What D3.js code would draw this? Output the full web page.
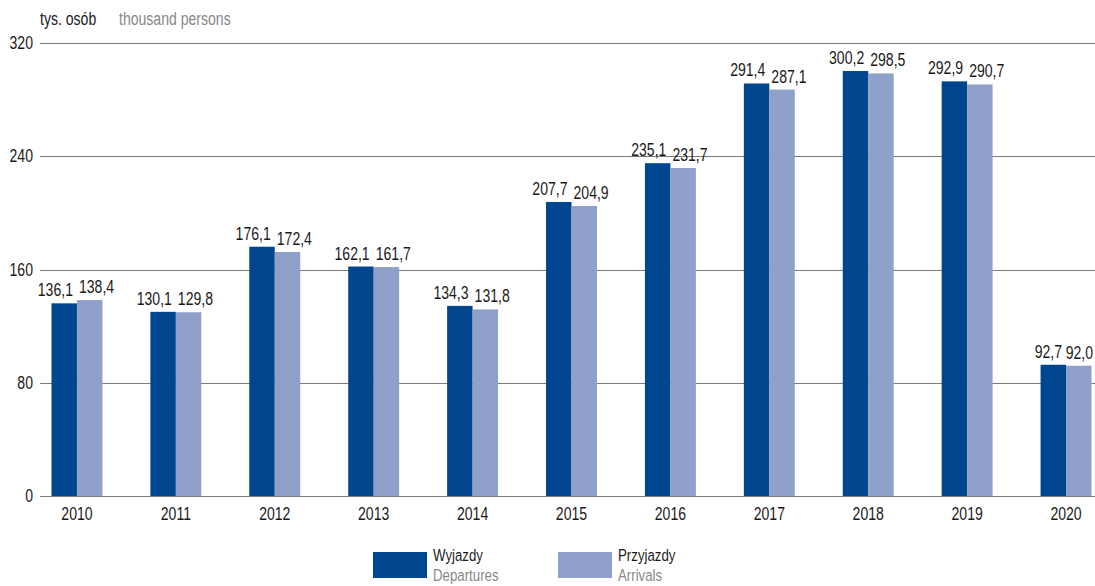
<!DOCTYPE html>
<html>
<head>
<meta charset="utf-8">
<script src="https://cdn.jsdelivr.net/npm/d3@7"></script>
<style>
  body { margin: 0; background: #fff; }
  svg { display: block; font-family: "Liberation Sans", Arial, sans-serif; }
</style>
</head>
<body>
<svg id="chart" width="1095" height="586"></svg>
<script>
// values
const years = ["2010", "2011", "2012", "2013", "2014", "2015", "2016", "2017", "2018", "2019", "2020"];
const departures = [136.1, 130.1, 176.1, 162.1, 134.3, 207.7, 235.1, 291.4, 300.2, 292.9, 92.7];
const arrivals = [138.4, 129.8, 172.4, 161.7, 131.8, 204.9, 231.7, 287.1, 298.5, 290.7, 92.0];
const yTicks = [0, 80, 160, 240, 320];

const DARK = "#00468e";
const LIGHT = "#8fa1ca";
const TEXT = "#1a1a1a";
const GREY = "#888";
const FS = 19;
const SQUEEZE = 0.74; // the original uses a condensed face

const svg = d3.select("#chart");

// condensed text: place at (x,y) and squash horizontally
function label(sel, x, y, anchor, color) {
  return sel.append("text")
    .attr("transform", d => "translate(" + x(d) + "," + y(d) + ") scale(" + SQUEEZE + ",1)")
    .attr("text-anchor", anchor)
    .attr("font-size", FS)
    .attr("fill", color);
}

const x = d3.scaleBand()
  .domain(years)
  .range([27.5, 1115.5])
  .paddingInner(0.485)
  .paddingOuter(0.2425);

const y = d3.scaleLinear()
  .domain([0, 320])
  .range([496, 43]);

const fmt = v => v.toFixed(1).replace(".", ",");

// gridlines + y labels
const grid = svg.append("g");
grid.selectAll("line")
  .data(yTicks)
  .enter().append("line")
  .attr("x1", 40).attr("x2", 1095)
  .attr("y1", d => Math.round(y(d)) + 0.5)
  .attr("y2", d => Math.round(y(d)) + 0.5)
  .attr("stroke", "#7a7a7a")
  .attr("stroke-width", 1);

label(grid.selectAll("text").data(yTicks).enter(), () => 33, d => y(d) + 6, "end", TEXT)
  .text(d => d);

// bars
const half = x.bandwidth() / 2;
const bars = svg.append("g");

bars.selectAll(".dep")
  .data(years)
  .enter().append("rect")
  .attr("class", "dep")
  .attr("x", d => x(d))
  .attr("width", half)
  .attr("y", (d, i) => y(departures[i]))
  .attr("height", (d, i) => y(0) - y(departures[i]))
  .attr("fill", DARK);

bars.selectAll(".arr")
  .data(years)
  .enter().append("rect")
  .attr("class", "arr")
  .attr("x", d => x(d) + half)
  .attr("width", half)
  .attr("y", (d, i) => y(arrivals[i]))
  .attr("height", (d, i) => y(0) - y(arrivals[i]))
  .attr("fill", LIGHT);

// value labels, pushed apart so the pairs do not collide
const lblG = svg.append("g");
label(lblG.selectAll(".dl").data(years.map((d, i) => i)).enter(),
  i => x(years[i]) + half - 4, i => y(departures[i]) - 7, "end", TEXT)
  .text(i => fmt(departures[i]));

const arrLbl = label(lblG.selectAll(".al").data(years.map((d, i) => i)).enter(),
  i => x(years[i]) + half + 2, i => y(arrivals[i]) - 7, "start", TEXT)
  .text(i => fmt(arrivals[i]));

// keep the last label inside the right edge
arrLbl.each(function(i) {
  const w = this.getComputedTextLength() * SQUEEZE;
  let lx = x(years[i]) + half + 2;
  if (lx + w > 1093) lx = 1093 - w;
  d3.select(this).attr("transform", "translate(" + lx + "," + (y(arrivals[i]) - 7) + ") scale(" + SQUEEZE + ",1)");
});

// year labels
label(svg.append("g").selectAll("text").data(years).enter(),
  d => x(d) + half, () => 520, "middle", TEXT)
  .text(d => d);

// unit header
label(svg.append("g").selectAll("text").data([0]).enter(), () => 40, () => 25, "start", TEXT)
  .text("tys. osób");
label(svg.append("g").selectAll("text").data([0]).enter(), () => 119, () => 25, "start", GREY)
  .text("thousand persons");

// legend
const legend = [
  { pl: "Wyjazdy", en: "Departures", color: DARK, x: 373 },
  { pl: "Przyjazdy", en: "Arrivals", color: LIGHT, x: 558 }
];
const lg = svg.append("g").selectAll("g")
  .data(legend)
  .enter().append("g")
  .attr("transform", d => "translate(" + d.x + ",0)");

lg.append("rect")
  .attr("x", 0).attr("y", 552)
  .attr("width", 54).attr("height", 26)
  .attr("fill", d => d.color);
lg.append("text")
  .attr("transform", "translate(60,561) scale(0.78,1)")
  .attr("font-size", 17).attr("fill", TEXT)
  .text(d => d.pl);
lg.append("text")
  .attr("transform", "translate(60,581) scale(0.78,1)")
  .attr("font-size", 17).attr("fill", GREY)
  .text(d => d.en);
</script>
</body>
</html>
